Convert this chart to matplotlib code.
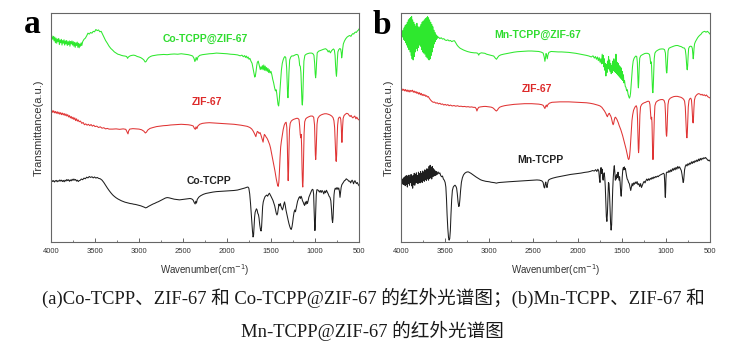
import numpy as np
import matplotlib
matplotlib.use("Agg")
import matplotlib.pyplot as plt
from matplotlib.ticker import MultipleLocator

# ---- data: (wavenumber cm-1, transmittance a.u.) ----
co_zif = [(4000,90.5),(3990,90.0),(3980,88.5),(3972,89.8),(3965,87.8),(3957,89.5),(3950,87.0),(3942,89.0),(3935,86.8),(3927,88.6),
    (3920,87.5),(3912,88.8),(3905,86.2),(3897,88.2),(3890,87.0),(3882,88.5),(3875,86.0),(3867,88.0),(3860,86.8),(3852,88.3),
    (3845,86.0),(3837,87.8),(3830,86.5),(3822,88.0),(3815,85.8),(3807,87.5),(3800,86.2),(3792,87.8),(3785,85.5),(3777,87.5),
    (3770,86.5),(3762,87.8),(3755,86.0),(3747,87.5),(3740,85.5),(3732,87.2),(3725,85.0),(3717,87.0),(3710,85.8),(3702,87.3),
    (3695,85.0),(3687,86.8),(3680,84.8),(3672,86.5),(3665,85.5),(3657,87.0),(3650,85.8),(3640,87.5),(3625,88.5),(3610,89.0),
    (3595,90.0),(3580,91.2),(3565,90.8),(3550,91.5),(3535,91.2),(3520,92.0),(3505,91.8),(3490,92.8),(3475,92.3),(3460,92.6),
    (3445,91.8),(3430,92.0),(3415,90.8),(3400,89.5),(3380,88.0),(3360,86.8),(3340,85.5),(3320,84.5),(3300,83.8),(3280,83.0),
    (3260,82.5),(3240,82.0),(3220,81.8),(3200,81.5),(3180,81.3),(3160,81.2),(3140,81.0),(3130,80.2),(3120,80.8),(3100,81.3),
    (3080,81.5),(3060,81.6),(3040,81.4),(3020,81.0),(3000,80.8),(2980,80.5),(2960,80.0),(2945,79.5),(2930,78.6),(2920,78.8),
    (2905,79.8),(2890,80.5),(2870,81.0),(2850,81.3),(2820,81.5),(2790,81.7),(2760,81.8),(2720,81.9),(2680,81.8),(2640,82.0),
    (2600,82.1),(2560,82.0),(2520,82.2),(2480,82.0),(2440,81.8),(2410,81.5),(2390,81.2),(2375,80.2),(2365,78.8),(2357,79.6),
    (2350,80.6),(2340,79.4),(2330,80.8),(2310,81.5),(2280,81.8),(2240,82.0),(2200,82.2),(2160,82.3),(2120,82.5),(2080,82.4),
    (2040,82.3),(2000,82.2),(1960,82.0),(1920,81.9),(1880,81.7),(1850,81.3),(1830,81.6),(1815,80.9),(1800,81.4),(1790,80.6),
    (1780,81.2),(1770,80.3),(1760,80.8),(1750,79.8),(1740,80.2),(1728,79.0),(1715,78.0),(1705,76.0),(1695,74.0),(1685,72.0),
    (1678,72.4),(1670,74.5),(1662,77.0),(1655,78.5),(1645,79.0),(1636,77.5),(1628,76.0),(1622,75.3),(1614,76.5),(1606,75.5),
    (1598,77.0),(1590,75.2),(1582,77.3),(1574,75.0),(1566,76.8),(1558,74.8),(1550,76.2),(1542,74.5),(1534,75.8),(1526,74.0),
    (1518,75.2),(1510,73.8),(1500,74.5),(1490,73.0),(1480,71.0),(1470,69.5),(1460,67.5),(1450,66.0),(1442,66.5),(1435,65.0),
    (1428,62.5),(1420,60.0),(1413,59.4),(1406,62.0),(1398,66.5),(1390,71.0),(1382,75.0),(1372,78.0),(1362,79.5),(1352,80.5),
    (1342,81.0),(1332,80.5),(1322,76.0),(1316,69.0),(1311,64.0),(1307,63.0),(1302,67.0),(1296,74.0),(1288,79.5),(1275,80.8),
    (1262,81.3),(1250,81.2),(1235,81.5),(1220,81.8),(1205,81.9),(1192,81.6),(1182,80.0),(1174,77.0),(1167,76.8),(1160,74.0),
    (1154,67.0),(1148,61.0),(1144,59.8),(1139,62.5),(1133,71.0),(1126,79.0),(1115,81.5),(1100,82.0),(1080,82.3),(1060,82.5),
    (1040,82.5),(1025,82.3),(1012,81.5),(1004,78.0),(998,73.5),(993,71.7),(988,73.5),(982,78.5),(975,82.6),(960,83.3),
    (940,83.6),(920,83.9),(900,84.2),(880,84.4),(865,84.0),(850,83.0),(840,83.6),(825,82.6),(812,83.5),(800,84.0),
    (790,84.3),(780,83.8),(772,81.5),(766,77.0),(760,73.5),(756,72.4),(752,74.5),(746,79.5),(740,83.0),(730,84.0),
    (718,84.5),(708,84.2),(701,82.5),(697,80.4),(692,81.5),(685,84.5),(678,86.5),(665,87.8),(650,88.8),(635,89.5),
    (620,89.9),(605,90.2),(592,89.8),(580,90.6),(570,91.0),(560,90.8),(550,91.4),(540,91.7),(530,91.5),(520,92.1),
    (510,92.4),(500,93.0)]

zif_a = [(4000,57.2),(3990,57.5),(3980,56.6),(3970,57.3),(3960,56.4),(3950,57.0),(3940,56.2),(3930,56.9),(3920,56.0),(3910,56.7),
    (3900,55.8),(3890,56.5),(3880,55.6),(3870,56.3),(3860,55.5),(3850,56.1),(3840,55.2),(3830,55.9),(3820,55.0),(3810,55.6),
    (3800,54.6),(3790,55.2),(3780,54.2),(3770,54.8),(3760,53.8),(3750,54.5),(3740,53.5),(3730,54.2),(3720,53.0),(3710,53.8),
    (3700,52.8),(3690,53.3),(3680,52.5),(3665,52.8),(3650,51.8),(3635,52.2),(3620,51.2),(3605,51.6),(3590,51.0),(3575,51.4),
    (3560,50.8),(3545,51.3),(3530,50.6),(3515,51.0),(3500,50.4),(3480,50.6),(3460,50.0),(3440,50.3),(3420,49.7),(3400,49.9),
    (3380,49.4),(3360,49.6),(3340,49.3),(3300,49.3),(3260,49.4),(3220,49.2),(3180,49.4),(3150,49.2),(3135,48.0),(3125,47.2),
    (3118,48.5),(3105,49.3),(3070,49.5),(3040,49.4),(3000,49.3),(2970,49.0),(2945,48.4),(2928,47.6),(2915,48.0),(2900,48.9),
    (2875,49.6),(2840,50.0),(2800,50.4),(2760,50.6),(2720,50.8),(2680,50.9),(2640,51.1),(2600,51.2),(2560,51.3),(2520,51.4),
    (2480,51.3),(2440,51.2),(2410,51.0),(2385,50.7),(2370,49.6),(2360,49.2),(2352,50.3),(2342,49.5),(2332,50.6),(2310,51.4),
    (2280,51.8),(2240,52.0),(2200,52.1),(2160,52.0),(2120,51.9),(2080,51.8),(2040,51.7),(2000,51.6),(1960,51.5),(1920,51.4),
    (1880,51.2),(1840,51.0),(1800,50.7),(1770,50.5),(1740,50.0),(1720,49.4),(1705,48.6),(1690,47.5),(1680,46.6),(1672,46.0),
    (1665,47.2),(1655,48.3),(1645,48.0),(1635,47.4),(1625,47.8),(1615,46.8),(1605,45.5),(1597,44.3),(1590,43.6),(1583,45.5),
    (1575,47.0),(1565,46.5),(1555,45.8),(1545,45.3),(1535,44.5),(1525,43.5),(1515,42.5),(1505,41.0),(1495,39.0),(1485,37.0),
    (1475,35.0),(1465,33.0),(1455,31.0),(1447,29.0),(1440,27.5),(1432,26.0),(1425,24.8),(1418,24.3),(1411,26.0),(1404,31.0),
    (1397,37.0),(1390,41.5),(1382,44.0),(1372,46.5),(1362,49.0),(1350,51.0),(1338,52.0),(1328,52.3),(1320,50.0),(1314,42.0),
    (1309,31.0),(1305,26.8),(1301,30.0),(1296,40.0),(1290,49.0),(1282,51.8),(1270,52.8),(1255,53.3),(1240,53.6),(1225,53.8),
    (1210,54.0),(1195,54.0),(1182,53.5),(1175,51.0),(1168,47.0),(1162,45.5),(1157,47.0),(1152,42.0),(1147,32.0),(1142,25.0),
    (1139,24.0),(1135,27.0),(1130,37.0),(1124,47.5),(1117,52.5),(1105,53.8),(1090,54.3),(1070,54.7),(1050,55.0),(1030,55.0),
    (1015,54.5),(1005,51.0),(1000,44.0),(996,38.0),(992,36.0),(988,38.5),(983,45.0),(977,51.5),(968,54.0),(950,55.0),
    (930,55.5),(910,55.8),(890,56.0),(870,56.0),(850,55.8),(830,55.5),(810,55.0),(795,54.3),(785,53.0),(777,50.0),
    (771,44.0),(766,38.0),(762,35.5),(758,35.2),(754,38.0),(749,45.0),(743,51.0),(735,53.8),(725,54.5),(715,54.5),
    (707,53.5),(701,50.0),(697,45.0),(694,43.5),(691,45.5),(686,50.5),(680,54.0),(670,55.2),(655,55.8),(640,56.2),
    (625,56.0),(612,55.3),(600,54.8),(590,55.3),(580,54.6),(570,54.2),(560,54.6),(548,55.0),(535,53.8),(525,54.5),
    (515,53.8),(505,53.5),(500,53.3)]

co_tcpp = [(4000,26.6),(3990,26.9),(3980,26.4),(3970,26.8),(3960,26.2),(3950,26.7),(3940,26.9),(3930,26.3),(3920,26.8),(3910,26.5),
    (3900,27.1),(3890,26.6),(3880,27.0),(3870,26.4),(3860,26.9),(3850,26.3),(3840,27.0),(3830,26.6),(3820,27.3),(3810,26.8),
    (3800,27.2),(3790,26.5),(3780,27.1),(3770,26.7),(3760,27.4),(3750,26.9),(3740,27.5),(3730,27.0),(3720,27.3),(3710,26.6),
    (3700,27.0),(3690,26.4),(3680,26.8),(3670,26.9),(3655,27.5),(3640,27.2),(3625,27.9),(3610,27.6),(3595,28.3),(3580,28.0),
    (3565,28.6),(3550,28.2),(3535,28.5),(3520,28.0),(3505,28.4),(3490,27.9),(3475,28.2),(3460,27.8),(3440,27.6),(3420,27.0),
    (3400,26.0),(3380,24.8),(3360,23.6),(3340,22.5),(3320,21.5),(3300,20.6),(3280,19.9),(3260,19.3),(3240,18.8),(3220,18.4),
    (3200,18.0),(3180,17.7),(3160,17.4),(3140,17.2),(3120,17.0),(3100,16.8),(3080,16.7),(3060,16.5),(3040,16.4),(3020,16.2),
    (3000,16.0),(2980,15.8),(2960,15.5),(2940,15.2),(2925,14.9),(2910,15.1),(2895,15.5),(2880,15.8),(2860,16.2),(2840,16.6),
    (2820,16.9),(2800,17.3),(2780,17.6),(2760,18.0),(2740,18.4),(2720,18.8),(2700,19.2),(2680,19.4),(2660,19.3),(2640,19.1),
    (2620,18.9),(2600,18.7),(2580,18.6),(2560,18.5),(2540,18.4),(2520,18.5),(2500,18.6),(2480,18.7),(2460,18.8),(2440,18.9),
    (2420,19.0),(2400,18.8),(2385,18.3),(2372,17.2),(2362,16.6),(2355,17.8),(2347,17.0),(2338,18.6),(2320,19.6),(2300,20.2),
    (2270,20.8),(2240,21.2),(2200,21.5),(2160,21.8),(2120,22.0),(2080,22.1),(2040,22.2),(2000,22.3),(1960,22.4),(1920,22.5),
    (1880,22.7),(1850,23.0),(1820,23.3),(1795,23.6),(1775,23.9),(1762,24.0),(1752,23.5),(1742,21.0),(1733,17.0),(1725,12.5),
    (1717,8.0),(1710,4.5),(1704,2.2),(1698,3.0),(1692,7.0),(1686,11.0),(1680,13.0),(1673,13.8),(1666,14.5),(1658,14.0),
    (1650,12.5),(1643,12.0),(1636,10.5),(1628,7.5),(1620,5.5),(1613,4.8),(1607,6.5),(1601,11.5),(1595,15.5),(1588,17.5),
    (1578,18.8),(1568,19.8),(1558,20.2),(1548,20.5),(1538,20.0),(1528,20.8),(1518,21.3),(1508,20.6),(1498,19.8),(1488,19.0),
    (1478,18.2),(1468,17.0),(1458,15.8),(1448,14.0),(1440,12.5),(1432,11.8),(1425,12.5),(1418,14.5),(1410,16.5),(1402,15.8),
    (1394,16.8),(1386,15.5),(1378,14.8),(1370,14.0),(1362,15.0),(1354,16.5),(1346,17.5),(1338,16.0),(1330,14.0),(1322,12.5),
    (1314,11.0),(1305,9.5),(1296,8.0),(1287,6.8),(1278,5.8),(1270,5.5),(1262,6.5),(1254,8.5),(1246,11.0),(1238,13.0),
    (1230,14.0),(1222,13.2),(1214,14.8),(1206,16.5),(1198,17.8),(1190,18.6),(1182,19.4),(1174,19.8),(1166,19.0),(1158,20.0),
    (1150,19.2),(1142,18.0),(1134,17.4),(1126,16.5),(1118,16.0),(1110,17.5),(1102,16.5),(1094,17.8),(1086,16.8),(1078,18.0),
    (1070,19.5),(1062,20.3),(1054,21.0),(1046,21.8),(1038,22.5),(1030,23.0),(1022,22.8),(1016,21.0),(1010,14.0),(1005,8.0),
    (1001,5.0),(997,7.0),(992,13.0),(986,20.5),(979,22.8),(970,22.8),(960,22.4),(950,21.8),(940,22.5),(930,21.6),
    (920,22.5),(910,22.0),(900,21.0),(890,22.3),(880,21.5),(870,22.6),(860,21.8),(850,21.0),(840,20.0),(830,19.5),
    (820,18.0),(812,14.0),(806,10.0),(800,8.5),(795,10.5),(790,15.0),(784,20.5),(778,22.5),(770,23.5),(760,23.0),
    (750,23.8),(740,23.0),(730,23.6),(722,22.0),(716,19.5),(710,21.5),(703,23.8),(695,25.0),(685,25.6),(675,26.2),
    (665,26.8),(655,27.0),(645,27.6),(635,27.3),(625,27.0),(615,26.5),(605,26.6),(595,25.8),(587,26.5),(578,27.0),
    (570,26.4),(562,25.4),(555,26.2),(546,26.8),(537,26.0),(528,25.5),(520,26.0),(510,25.2),(500,24.6)]

mn_zif = [(4000,91.0),(3994,90.0),(3988,92.0),(3982,89.5),(3976,92.5),(3970,88.5),(3964,93.5),(3958,88.0),(3952,94.5),(3946,87.0),
    (3940,95.0),(3934,86.0),(3928,96.0),(3922,85.0),(3916,97.0),(3910,84.0),(3904,97.5),(3898,83.0),(3892,98.0),(3886,81.5),
    (3880,98.5),(3874,80.0),(3868,97.0),(3862,79.5),(3856,96.0),(3850,81.0),(3844,95.0),(3838,83.0),(3832,94.0),(3826,84.5),
    (3820,95.5),(3814,83.5),(3808,94.0),(3802,85.0),(3796,93.0),(3790,86.0),(3784,94.0),(3778,85.5),(3772,95.0),(3766,84.0),
    (3760,96.0),(3754,83.0),(3748,96.5),(3742,82.5),(3736,97.0),(3730,82.0),(3724,97.5),(3718,81.0),(3712,98.0),(3706,80.5),
    (3700,98.5),(3694,80.0),(3688,98.0),(3682,79.5),(3676,97.0),(3670,80.0),(3664,96.0),(3658,81.5),(3652,95.0),(3646,83.0),
    (3640,94.0),(3634,85.0),(3628,92.5),(3622,86.5),(3616,91.5),(3610,87.5),(3604,90.5),(3598,88.5),(3592,90.0),(3586,89.0),
    (3575,89.5),(3560,88.8),(3545,89.2),(3530,88.6),(3515,88.8),(3500,88.2),(3485,88.0),(3470,88.3),(3455,87.8),(3440,88.0),
    (3425,87.5),(3410,87.8),(3395,87.9),(3380,87.0),(3365,86.0),(3350,85.3),(3330,84.6),(3310,84.2),(3290,83.8),(3270,83.5),
    (3250,83.2),(3230,83.0),(3210,82.8),(3190,82.7),(3170,82.6),(3150,82.6),(3130,82.4),(3120,81.6),(3110,82.3),(3090,82.6),
    (3070,82.5),(3050,82.4),(3030,82.0),(3010,81.8),(2990,81.6),(2970,81.4),(2950,81.2),(2930,80.2),(2918,79.8),(2905,80.6),
    (2890,81.3),(2870,81.7),(2840,82.0),(2800,82.3),(2760,82.6),(2720,82.9),(2680,83.1),(2640,83.2),(2600,83.3),(2560,83.4),
    (2520,83.4),(2480,83.3),(2440,83.2),(2410,82.9),(2390,82.5),(2378,80.8),(2370,78.9),(2363,80.5),(2357,82.3),(2350,81.5),
    (2343,80.0),(2336,81.6),(2325,82.8),(2300,83.2),(2260,83.1),(2220,83.0),(2180,83.0),(2140,82.9),(2100,82.8),(2060,82.6),
    (2020,82.4),(1980,82.1),(1940,81.8),(1900,81.5),(1870,81.2),(1845,80.8),(1825,81.3),(1810,80.3),(1798,81.0),(1786,79.8),
    (1775,80.8),(1765,79.2),(1755,80.5),(1745,78.5),(1737,80.0),(1729,77.8),(1721,82.0),(1715,78.0),(1709,81.5),(1703,76.5),
    (1697,80.0),(1691,75.0),(1685,78.0),(1679,72.5),(1673,77.5),(1667,74.0),(1661,79.0),(1655,76.0),(1649,81.0),(1643,75.5),
    (1637,79.5),(1631,74.5),(1625,78.0),(1619,73.5),(1613,77.0),(1607,74.0),(1601,79.0),(1595,75.0),(1589,80.0),(1583,74.5),
    (1577,79.0),(1571,74.0),(1565,82.0),(1559,73.5),(1553,78.5),(1547,73.0),(1541,78.0),(1535,72.5),(1529,77.0),(1523,72.0),
    (1517,76.5),(1511,71.5),(1505,76.0),(1499,71.0),(1493,74.5),(1487,70.5),(1481,73.0),(1475,69.5),(1468,70.5),(1460,68.0),
    (1452,67.5),(1444,66.0),(1436,66.5),(1428,64.5),(1420,63.5),(1413,62.8),(1406,63.5),(1400,65.0),(1393,68.5),(1386,72.5),
    (1378,76.5),(1370,79.0),(1360,80.2),(1350,80.8),(1340,81.2),(1330,81.0),(1323,78.5),(1318,73.0),(1314,68.5),(1311,67.3),
    (1307,70.0),(1302,76.0),(1296,80.3),(1285,81.3),(1270,81.7),(1255,82.0),(1240,82.3),(1225,82.4),(1210,82.4),(1195,82.2),
    (1185,81.8),(1178,80.2),(1172,78.0),(1167,78.7),(1162,77.0),(1156,71.0),(1151,66.0),(1147,65.2),(1143,67.5),(1138,73.5),
    (1132,80.0),(1124,82.5),(1110,83.3),(1090,83.8),(1070,84.2),(1050,84.3),(1030,84.3),(1015,84.0),(1005,82.5),(999,78.0),
    (994,74.5),(990,73.8),(986,75.0),(981,79.5),(975,83.5),(965,84.6),(945,85.0),(925,85.3),(905,85.6),(885,85.8),
    (865,85.8),(845,85.5),(825,85.3),(805,84.8),(790,84.7),(780,84.0),(772,81.5),(766,78.0),(761,75.5),(757,75.2),
    (753,77.0),(748,81.0),(742,84.5),(732,85.3),(720,85.5),(708,85.4),(700,84.5),(695,82.0),(690,80.0),(686,81.5),
    (681,84.5),(675,86.5),(665,87.5),(652,88.4),(640,89.2),(628,89.8),(615,90.3),(600,90.8),(588,91.5),(575,91.8),
    (560,92.0),(545,91.6),(530,92.0),(515,91.5),(500,90.8)]

zif_b = [(4000,66.6),(3990,66.9),(3980,66.2),(3970,66.7),(3960,66.0),(3950,66.6),(3940,65.8),(3930,66.4),(3920,65.6),(3910,66.3),
    (3900,65.5),(3890,66.2),(3880,65.8),(3870,66.3),(3860,65.4),(3850,65.9),(3840,65.2),(3830,65.7),(3820,64.9),(3810,65.4),
    (3800,64.6),(3790,65.2),(3780,64.3),(3770,64.9),(3760,64.0),(3750,64.5),(3740,63.9),(3730,64.3),(3720,63.6),(3710,63.9),
    (3700,63.3),(3690,63.5),(3680,62.8),(3665,62.0),(3650,61.4),(3635,61.0),(3620,61.1),(3605,60.6),(3590,60.8),(3575,60.3),
    (3560,60.6),(3545,60.1),(3530,60.3),(3515,59.8),(3500,60.1),(3485,59.7),(3470,60.0),(3455,59.5),(3440,59.8),(3420,59.4),
    (3400,59.6),(3380,59.3),(3360,59.5),(3340,59.2),(3320,59.3),(3300,59.1),(3280,59.2),(3260,59.0),(3240,59.1),(3220,58.9),
    (3200,59.0),(3180,58.8),(3160,58.8),(3148,58.2),(3140,57.2),(3133,58.0),(3120,58.8),(3100,59.0),(3080,59.1),(3060,59.2),
    (3040,59.2),(3020,59.1),(3000,59.0),(2980,58.9),(2960,58.6),(2945,58.1),(2930,57.5),(2920,57.2),(2908,57.6),(2895,58.4),
    (2880,58.9),(2860,59.2),(2830,59.5),(2800,59.7),(2760,59.9),(2720,60.1),(2680,60.2),(2640,60.3),(2600,60.4),(2560,60.4),
    (2520,60.4),(2480,60.3),(2440,60.2),(2410,60.0),(2390,59.7),(2378,58.9),(2370,58.3),(2362,59.2),(2354,59.8),(2346,59.0),
    (2338,59.9),(2320,60.6),(2290,61.0),(2250,61.1),(2200,61.2),(2150,61.2),(2100,61.2),(2050,61.1),(2000,61.0),(1950,60.9),
    (1900,60.8),(1860,60.6),(1820,60.3),(1790,60.0),(1765,59.7),(1745,59.4),(1725,58.8),(1710,58.0),(1695,57.2),(1685,56.5),
    (1678,56.0),(1670,55.2),(1662,54.7),(1655,55.5),(1647,56.0),(1640,56.2),(1632,55.5),(1624,55.0),(1617,54.2),(1610,53.0),
    (1603,51.8),(1597,51.2),(1591,51.8),(1584,53.3),(1577,54.3),(1570,54.5),(1562,54.0),(1554,53.5),(1546,52.8),(1538,52.0),
    (1530,51.0),(1520,50.0),(1510,49.0),(1500,47.8),(1490,46.5),(1480,45.0),(1470,43.5),(1460,42.0),(1450,40.5),(1442,39.0),
    (1435,37.5),(1428,36.5),(1421,36.0),(1415,36.5),(1410,37.8),(1404,40.5),(1398,44.5),(1391,49.0),(1384,53.0),(1376,55.5),
    (1366,57.5),(1355,58.5),(1345,59.2),(1335,59.5),(1327,58.5),(1321,54.0),(1316,46.0),(1312,40.5),(1309,39.0),(1305,41.0),
    (1300,48.0),(1294,55.5),(1287,59.0),(1275,60.0),(1260,60.5),(1245,60.8),(1230,61.0),(1215,61.3),(1200,61.5),(1188,61.3),
    (1180,60.0),(1174,56.5),(1169,54.0),(1165,53.6),(1161,54.5),(1157,52.0),(1153,44.0),(1149,37.5),(1146,36.0),(1142,37.5),
    (1137,45.0),(1131,54.0),(1124,59.5),(1112,61.0),(1095,61.6),(1075,62.0),(1055,62.2),(1035,62.2),(1020,61.8),(1010,60.5),
    (1004,56.0),(999,50.0),(995,46.8),(991,46.2),(987,48.5),(982,54.5),(976,60.0),(967,62.0),(950,62.8),(930,63.2),
    (910,63.5),(890,63.6),(870,63.6),(850,63.4),(830,63.2),(812,62.8),(798,62.3),(788,61.5),(780,59.0),(774,54.0),
    (769,49.0),(765,46.0),(761,45.5),(757,47.5),(752,53.0),(746,59.0),(738,61.8),(728,62.6),(718,62.8),(710,62.0),
    (704,59.0),(699,55.0),(695,52.5),(691,52.0),(687,54.0),(682,58.5),(676,62.0),(666,63.5),(652,64.2),(640,64.6),
    (628,64.8),(615,64.6),(602,64.2),(590,64.5),(578,64.0),(565,64.3),(552,63.8),(540,64.2),(527,63.5),(515,63.2),
    (505,63.0),(500,62.9)]

mn_tcpp = [(4000,26.6),(3994,27.2),(3988,25.8),(3982,27.5),(3976,25.2),(3970,28.0),(3964,25.0),(3958,28.4),(3952,24.6),(3946,28.8),
    (3940,25.2),(3934,29.0),(3928,24.0),(3922,28.5),(3916,25.5),(3910,29.2),(3904,24.8),(3898,28.0),(3892,26.0),(3886,29.5),
    (3880,24.5),(3874,28.8),(3868,23.5),(3862,29.0),(3856,25.0),(3850,30.0),(3844,24.8),(3838,29.5),(3832,25.8),(3826,30.2),
    (3820,26.0),(3814,29.0),(3808,25.5),(3802,30.5),(3796,26.2),(3790,29.8),(3784,25.8),(3778,30.8),(3772,26.5),(3766,30.0),
    (3760,26.0),(3754,31.0),(3748,27.0),(3742,30.5),(3736,26.5),(3730,31.5),(3724,27.2),(3718,31.0),(3712,26.8),(3706,32.0),
    (3700,27.5),(3694,31.5),(3688,27.0),(3682,33.0),(3676,27.8),(3670,33.5),(3664,28.0),(3658,32.5),(3652,27.5),(3646,33.0),
    (3640,28.5),(3634,32.0),(3628,28.8),(3622,31.5),(3616,29.0),(3610,31.0),(3604,29.2),(3598,30.8),(3590,29.5),(3580,30.6),
    (3570,29.8),(3560,30.2),(3550,29.0),(3540,28.5),(3530,28.8),(3520,27.5),(3510,27.0),(3500,26.0),(3492,24.0),(3485,19.0),
    (3478,12.0),(3470,6.0),(3462,2.0),(3455,0.8),(3448,1.5),(3441,5.0),(3434,12.0),(3426,18.5),(3418,22.5),(3408,24.0),
    (3398,24.5),(3388,24.8),(3378,24.3),(3370,23.5),(3362,21.0),(3354,17.5),(3346,15.5),(3340,15.8),(3333,18.5),(3325,22.5),
    (3316,26.0),(3305,28.0),(3292,29.3),(3278,30.0),(3264,30.4),(3250,30.6),(3236,30.6),(3222,30.3),(3208,30.0),(3194,29.6),
    (3180,29.2),(3166,28.8),(3150,28.4),(3134,28.0),(3118,27.6),(3100,27.2),(3080,26.9),(3060,26.7),(3040,26.5),(3020,26.4),
    (3000,26.3),(2980,26.1),(2960,26.0),(2940,25.9),(2920,25.7),(2900,25.9),(2880,26.0),(2850,26.1),(2820,26.2),(2780,26.3),
    (2740,26.4),(2700,26.5),(2660,26.6),(2620,26.7),(2580,26.8),(2540,26.9),(2500,27.0),(2460,27.1),(2430,27.0),(2405,26.7),
    (2390,26.0),(2380,24.0),(2373,23.6),(2366,25.5),(2360,26.2),(2353,24.6),(2346,23.8),(2339,25.5),(2330,27.0),(2310,27.5),
    (2280,27.9),(2240,28.3),(2200,28.6),(2160,28.9),(2120,29.2),(2080,29.5),(2040,29.7),(2000,29.9),(1960,30.1),(1920,30.4),
    (1880,30.6),(1850,30.9),(1830,31.2),(1810,31.0),(1795,31.6),(1782,30.8),(1770,31.8),(1760,31.0),(1752,27.5),(1746,26.0),
    (1740,31.5),(1734,32.5),(1728,30.0),(1722,31.8),(1716,28.0),(1710,27.0),(1704,29.5),(1698,30.2),(1692,28.0),(1686,24.0),
    (1680,17.0),(1674,11.0),(1668,9.0),(1662,12.5),(1656,20.0),(1650,26.0),(1644,25.5),(1638,21.0),(1632,14.0),(1626,8.0),
    (1620,5.2),(1614,7.5),(1608,15.0),(1602,23.0),(1596,28.0),(1590,31.5),(1584,33.3),(1578,30.5),(1572,27.0),(1566,28.8),
    (1560,27.5),(1554,29.5),(1548,28.2),(1542,30.5),(1536,28.5),(1530,27.0),(1524,28.5),(1518,26.0),(1512,22.0),(1506,20.0),
    (1500,23.5),(1494,28.5),(1488,31.5),(1482,32.5),(1476,31.5),(1470,32.8),(1464,31.8),(1458,32.0),(1452,30.5),(1446,29.0),
    (1438,27.5),(1430,27.0),(1422,26.0),(1414,25.5),(1406,24.0),(1398,22.5),(1390,24.0),(1382,25.5),(1374,24.5),(1366,25.8),
    (1356,25.2),(1346,26.2),(1336,25.5),(1326,26.4),(1316,25.0),(1306,25.5),(1296,24.2),(1286,25.5),(1276,23.8),(1266,24.8),
    (1256,25.8),(1246,26.5),(1236,25.8),(1226,26.8),(1216,27.5),(1206,26.8),(1196,27.6),(1186,27.0),(1176,27.8),(1166,27.4),
    (1156,28.2),(1146,27.6),(1136,28.4),(1126,28.0),(1116,28.6),(1106,28.3),(1096,28.8),(1086,28.5),(1076,29.0),(1066,29.2),
    (1056,29.4),(1046,29.6),(1036,29.8),(1026,30.0),(1018,29.6),(1013,26.0),(1009,21.0),(1006,19.5),(1003,21.5),(999,27.5),
    (994,30.3),(985,30.6),(975,30.3),(965,31.2),(955,30.5),(945,31.5),(935,30.8),(925,32.0),(915,31.3),(905,32.3),
    (895,31.5),(885,32.6),(875,31.8),(865,33.0),(855,32.2),(845,32.8),(835,32.0),(825,31.2),(817,29.5),(810,27.5),
    (804,26.0),(799,26.6),(794,29.0),(788,31.5),(780,33.0),(770,33.8),(760,33.2),(750,34.2),(740,33.6),(730,34.5),
    (720,34.0),(710,35.0),(700,34.3),(690,35.2),(680,34.6),(670,35.5),(660,35.0),(650,35.8),(640,35.2),(630,36.2),
    (620,35.5),(610,36.5),(600,35.8),(590,36.6),(580,36.2),(570,36.8),(560,36.5),(550,36.9),(540,36.4),(530,36.0),
    (520,35.5),(510,35.8),(500,35.3)]

names_a = ["Co-TCPP@ZIF-67", "ZIF-67", "Co-TCPP"]
names_b = ["Mn-TCPP@ZIF-67", "ZIF-67", "Mn-TCPP"]
caption_1 = "(a)Co-TCPP、ZIF-67 和 Co-TCPP@ZIF-67 的红外光谱图；(b)Mn-TCPP、ZIF-67 和"
caption_2 = "Mn-TCPP@ZIF-67 的红外光谱图"

GREEN, RED, BLACK = "#2ee82e", "#e03434", "#1e1e1e"
LABEL_COLORS = ["#2fdc2f", "#dd2a2a", "#222222"]
FRAME = "#666666"

plt.rcParams["font.family"] = ["Liberation Sans", "DejaVu Sans"]

fig = plt.figure(figsize=(7.43, 3.46), dpi=100)
ax_a = fig.add_axes([51 / 743, 104 / 346, 308 / 743, 229 / 346])
ax_b = fig.add_axes([401 / 743, 104 / 346, 309 / 743, 229 / 346])


def draw_panel(ax, series, names, label_xy):
    for pts, color in zip(series, [GREEN, RED, BLACK]):
        arr = np.array(pts)
        ax.plot(arr[:, 0], arr[:, 1], color=color, lw=0.75)
    for name, (x, y), c in zip(names, label_xy, LABEL_COLORS):
        ax.text(x, y, name, color=c, fontsize=7.5, fontweight="bold",
                ha="center", va="center")
    ax.set_xlim(4000, 500)
    ax.set_ylim(0, 100)
    ax.xaxis.set_major_locator(MultipleLocator(500))
    ax.xaxis.set_minor_locator(MultipleLocator(250))
    ax.set_yticks([])
    ax.tick_params(axis="x", which="both", direction="in", colors=FRAME,
                   labelcolor="#333333", labelsize=5.5, pad=4)
    ax.tick_params(axis="x", which="major", length=3, width=0.7)
    ax.tick_params(axis="x", which="minor", length=1.8, width=0.6)
    for s in ax.spines.values():
        s.set_color(FRAME)
        s.set_linewidth(0.8)
    ax.set_xlabel("Wavenumber(cm$^{-1}$)", fontsize=7, color="#333333")
    ax.xaxis.set_label_coords(0.5, -0.09)
    ax.set_ylabel("Transmittance(a.u.)", fontsize=8, color="#333333")
    ax.yaxis.set_label_coords(-0.022, 0.5)


draw_panel(ax_a, [co_zif, zif_a, co_tcpp], names_a,
           [(2250, 88.7), (2230, 61.2), (2205, 26.8)])
draw_panel(ax_b, [mn_zif, zif_b, mn_tcpp], names_b,
           [(2452, 90.6), (2460, 66.9), (2422, 36.0)])

fig.text(24 / 743, 1 - 33 / 346, "a", family="Liberation Serif", fontweight="bold",
         fontsize=24, va="baseline", ha="left")
fig.text(373 / 743, 1 - 34 / 346, "b", family="Liberation Serif", fontweight="bold",
         fontsize=24, va="baseline", ha="left")

cap_font = ["Liberation Serif", "Noto Sans CJK SC"]
t1 = fig.text(373.5 / 743, 1 - 298 / 346, caption_1, family=cap_font, fontsize=11,
              ha="center", va="center", color="#1a1a1a")
t2 = fig.text(372.5 / 743, 1 - 331 / 346, caption_2, family=cap_font, fontsize=11,
              ha="center", va="center", color="#1a1a1a")

# scale the caption so line 1 spans the same width as in the source
fig.canvas.draw()
w = t1.get_window_extent(fig.canvas.get_renderer()).width
size = 11 * 663 / w
t1.set_fontsize(size)
t2.set_fontsize(size)

fig.savefig("out.png", dpi=100)
